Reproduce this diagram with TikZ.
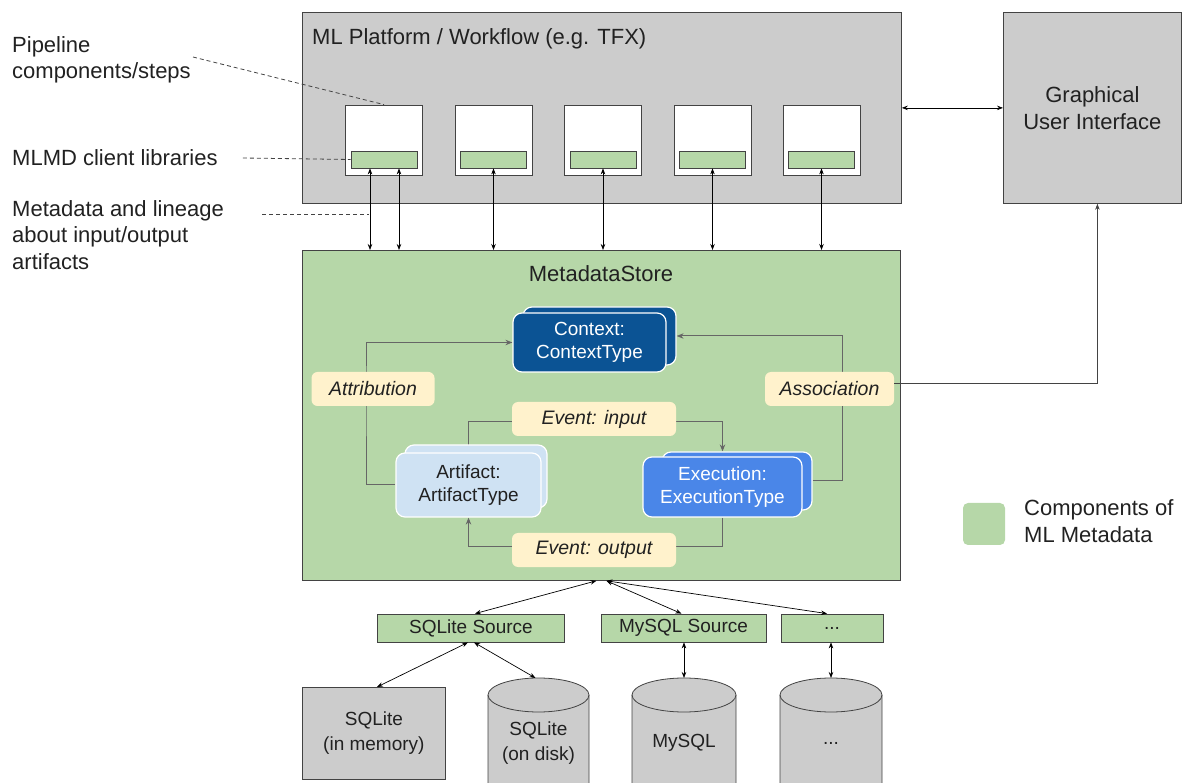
\documentclass[tikz,border=0pt]{standalone}
\usepackage{fontspec}
\setmainfont{Liberation Sans}
\usetikzlibrary{arrows.meta,calc}
\pgfdeclarelayer{bg}
\pgfdeclarelayer{mid}
\pgfsetlayers{bg,mid,main}
\definecolor{boxgray}{HTML}{CCCCCC}
\definecolor{linegray}{HTML}{434343}
\definecolor{mlgreen}{HTML}{B6D7A8}
\definecolor{ctxblue}{HTML}{0B5394}
\definecolor{artblue}{HTML}{CFE2F3}
\definecolor{exeblue}{HTML}{4A86E8}
\definecolor{tagyellow}{HTML}{FFF2CC}
\definecolor{conngray}{HTML}{666666}
\definecolor{txt}{HTML}{212121}
\begin{document}
\begin{tikzpicture}[x=1pt,y=-1pt,
  every node/.style={text=txt},
  big/.style={font=\fontsize{22}{26.5}\selectfont},
  med/.style={font=\fontsize{19}{23}\selectfont},
  sto/.style={font=\fontsize{19}{25}\selectfont},
  graybox/.style={draw=linegray, fill=boxgray, line width=0.8pt, inner sep=0pt},
  greenbox/.style={draw=linegray, fill=mlgreen, line width=0.8pt, inner sep=0pt},
  comp/.style={draw=linegray, fill=white, line width=0.8pt, minimum width=77pt, minimum height=70pt, inner sep=0pt},
  lib/.style={draw=linegray, fill=mlgreen, line width=0.8pt, minimum width=66pt, minimum height=17pt, inner sep=0pt},
  entity/.style={rounded corners=9pt, draw=white, line width=1.2pt, align=center, inner sep=0pt, med},
  tag/.style={fill=tagyellow, rounded corners=6pt, inner sep=0pt, minimum height=34pt, font=\fontsize{19.5}{22}\selectfont\itshape},
  src/.style={draw=linegray, fill=mlgreen, line width=0.8pt, minimum height=28pt, inner sep=0pt, med},
  cylfill/.style={draw=linegray, fill=boxgray, line width=0.8pt},
  biarrow/.style={draw=black, line width=0.7pt, {Stealth[length=6pt,width=4.5pt]}-{Stealth[length=6pt,width=4.5pt]}},
  conn/.style={draw=conngray, line width=1pt, -{Stealth[length=7pt,width=5.5pt]}},
  dashline/.style={draw=linegray, line width=0.8pt, dash pattern=on 4pt off 3pt}]
\useasboundingbox (0,0) rectangle (1195,783);

% ---------- platform ----------
\node[graybox, anchor=north west, minimum width=599pt, minimum height=191pt] (ml) at (302,12) {};
\node[big, anchor=base west, inner sep=0pt] (mltitle) at (312,45) {ML Platform / Workflow (e.g. TFX)};
\foreach \i/\x in {1/384,2/493.5,3/603,4/712.5,5/821.5}{
  \node[comp] (c\i) at (\x,140) {};
  \node[lib] (l\i) at (\x,159.5) {};
}
\node[graybox, anchor=north west, minimum width=178pt, minimum height=191pt, align=center, big] (gui) at (1003,12) {Graphical\\User Interface};
\draw[biarrow] (ml.east) -- (gui.west);

% ---------- left notes ----------
\node[big, anchor=north west, align=left, inner sep=0pt] (pipe) at (12,36) {Pipeline\\components/steps};
\node[big, anchor=west, inner sep=0pt] (mlmd) at (12,158) {MLMD client libraries};
\node[big, anchor=north west, align=left, inner sep=0pt] (meta) at (12,200) {Metadata and lineage\\about input/output\\artifacts};
\coordinate (pipeend) at (193,57);
\draw[dashline] (pipeend) -- (c1.north);
\draw[dashline] ([xshift=25pt]mlmd.east) -- (l1.west);
\coordinate (metaend) at (369,214);
\coordinate (metastart) at (262,214);
\draw[dashline] (metastart) -- (metaend);

% ---------- metadata store ----------
\begin{pgfonlayer}{bg}
\node[greenbox, anchor=north west, minimum width=598pt, minimum height=330pt] (mds) at (302,250) {};
\end{pgfonlayer}
\node[big, inner sep=0pt] (mdstitle) at (601,274) {MetadataStore};

\draw[biarrow] ([xshift=-14pt]l1.south) -- ([xshift=-14pt]l1.south |- mds.north);
\draw[biarrow] ([xshift=15pt]l1.south) -- ([xshift=15pt]l1.south |- mds.north);
\foreach \i in {2,3,4,5}{
  \draw[biarrow] (l\i.south) -- (l\i.south |- mds.north);
}

% entities
\node[entity, fill=ctxblue, minimum width=153pt, minimum height=58pt] (ctxb) at (599.5,336) {};
\node[entity, fill=ctxblue, minimum width=153pt, minimum height=59pt, text=white] (ctx) at (589.5,342.5) {Context:\\ContextType};
\node[entity, fill=artblue, minimum width=142pt, minimum height=63pt] (artb) at (476,476.5) {};
\node[entity, fill=artblue, minimum width=145pt, minimum height=64pt] (art) at (468.5,485) {Artifact:\\ArtifactType};
\node[entity, fill=exeblue, minimum width=150pt, minimum height=58pt] (execb) at (737,481) {};
\node[entity, fill=exeblue, minimum width=159pt, minimum height=60pt, text=white] (exec) at (722.5,487) {Execution:\\ExecutionType};

% tags
\node[tag, minimum width=123pt] (attr) at (373,389) {Attribution};
\node[tag, minimum width=129pt] (assoc) at (829.5,389) {Association};
\node[tag, minimum width=164pt] (evin) at (594,419) {Event: input};
\node[tag, minimum width=164pt] (evout) at (594,550) {Event: output};

\begin{pgfonlayer}{mid}
\draw[conn] (art.west) -| ($(attr.center)+(-7,0)$) |- (ctx.west);
\draw[conn] (execb.east) -| ($(assoc.center)+(13,0)$) |- (ctxb.east);
\draw[conn] (art.north) |- ($(evin.center)+(0,3)$) -| (exec.north |- execb.north);
\draw[conn] (exec.south) |- ($(evout.center)+(0,-3)$) -| (art.south);
\end{pgfonlayer}
\draw[draw=linegray, line width=0.8pt, -{Stealth[length=6pt,width=4.5pt]}] ($(assoc.east)+(0,-6)$) -| ($(gui.south)+(5,0)$);

% ---------- legend ----------
\node[fill=mlgreen, rounded corners=5pt, minimum size=42pt, inner sep=0pt] (leg) at (984,524) {};
\node[big, anchor=west, align=left, inner sep=0pt] (legtext) at (1024,521) {Components of\\ML Metadata};

% ---------- sources ----------
\node[src, minimum width=187pt] (sqls) at (471,628) {SQLite Source};
\node[src, minimum width=165pt] (mys) at (683.5,628) {MySQL Source};
\node[src, minimum width=102pt] (dots) at (832,628) {...};
\draw[biarrow] ([xshift=-5pt]mds.south) -- ([xshift=4pt]sqls.north);
\draw[biarrow] ([xshift=5pt]mds.south) -- ([xshift=-2pt]mys.north);
\draw[biarrow] ([xshift=5pt]mds.south) -- ([xshift=-5pt]dots.north);

% storage
\node[graybox, anchor=north west, minimum width=143pt, minimum height=92pt, align=center, sto] (mem) at (302,687) {SQLite\\(in memory)};
\foreach \n/\cx/\w/\t in {disk/538.5/101/{SQLite\\(on disk)}, mysql/684/104/{MySQL}, etc/831/102/{...}}{
  \pgfmathsetmacro{\rx}{\w/2}
  \draw[cylfill] (\cx+\rx,695) arc[start angle=0,end angle=180,x radius=\rx pt,y radius=17pt]
     -- (\cx-\rx,800) -- (\cx+\rx,800) -- cycle;
  \draw[linegray, line width=0.8pt] (\cx-\rx,695) arc[start angle=180,end angle=360,x radius=\rx pt,y radius=17pt];
  \coordinate (\n-top) at (\cx,678);
  \node[sto, align=center, inner sep=0pt] (\n) at (\cx,743) {\t};
}
\draw[biarrow] ([xshift=-3pt]sqls.south) -- ([xshift=75pt]mem.north west);
\draw[biarrow] ([xshift=3pt]sqls.south) -- ([xshift=-3pt]disk-top);
\draw[biarrow] (mys.south -| mysql-top) -- (mysql-top);
\draw[biarrow] (dots.south -| etc-top) -- (etc-top);
\end{tikzpicture}
\end{document}
